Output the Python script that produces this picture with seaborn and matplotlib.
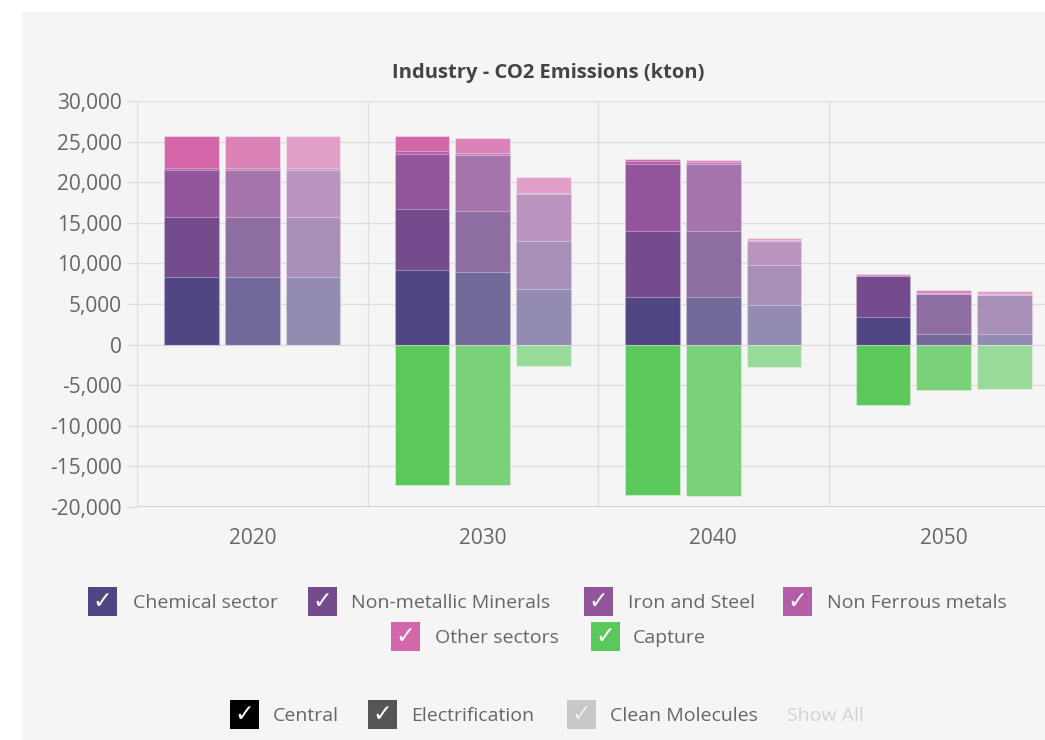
import numpy as np
import pandas as pd
import seaborn as sns
import matplotlib
matplotlib.use("Agg")
import matplotlib.pyplot as plt
from matplotlib.patches import Rectangle
from matplotlib.ticker import FuncFormatter, FixedLocator

# ---------------- data ----------------
years = ["2020", "2030", "2040", "2050"]
scenarios = ["Central", "Electrification", "Clean Molecules"]
sectors = ["Chemical sector", "Non-metallic Minerals", "Iron and Steel",
           "Non Ferrous metals", "Other sectors", "Capture"]

# values per scenario, per year (kton)
chemical = {"Central": [8300, 9200, 5900, 3400],
            "Electrification": [8300, 9000, 5900, 1350],
            "Clean Molecules": [8300, 6800, 4900, 1250]}
non_metallic = {"Central": [7400, 7500, 8100, 5000],
                "Electrification": [7400, 7500, 8100, 4900],
                "Clean Molecules": [7400, 5950, 4950, 4850]}
iron_steel = {"Central": [5800, 6800, 8300, 0],
              "Electrification": [5800, 6900, 8300, 0],
              "Clean Molecules": [5800, 5800, 2850, 0]}
non_ferrous = {"Central": [200, 300, 250, 150],
               "Electrification": [200, 250, 200, 150],
               "Clean Molecules": [200, 150, 150, 150]}
other = {"Central": [4000, 1900, 350, 200],
         "Electrification": [4000, 1750, 250, 300],
         "Clean Molecules": [4000, 2000, 300, 350]}
capture = {"Central": [0, -17250, -18500, -7450],
           "Electrification": [0, -17250, -18600, -5600],
           "Clean Molecules": [0, -2650, -2750, -5450]}

sector_colors = ["#514583", "#744b8d", "#92549a", "#b35ea6", "#d466aa", "#5ac85a"]
scenario_alpha = [1.0, 0.8, 0.6]
scenario_swatch = ["#000000", "#555555", "#c8c8c8"]

BG = "#f5f5f5"
W, H = 1045, 740


def blend(hexc, a, bg=BG):
    c = np.array(matplotlib.colors.to_rgb(hexc))
    b = np.array(matplotlib.colors.to_rgb(bg))
    return tuple(a * c + (1 - a) * b)


def fx(x):
    return x / W


def fy(y):
    return 1 - y / H


# ---------------- figure ----------------
sns.set_theme(style="white")
plt.rcParams["font.family"] = ["Open Sans", "DejaVu Sans"]

fig = plt.figure(figsize=(W / 100, H / 100), dpi=100)
fig.patch.set_facecolor("white")
fig.add_artist(Rectangle((fx(22), 0), 1 - fx(22), fy(12), transform=fig.transFigure,
                         facecolor=BG, edgecolor="none", zorder=-10))

ax = fig.add_axes([fx(137), fy(507), 922 / W, (507 - 101) / H])
ax.set_facecolor(BG)

# cumulative stacks
layers = [chemical, non_metallic, iron_steel, non_ferrous, other]
rows = []
for s in scenarios:
    cum = np.zeros(len(years))
    for li, layer in enumerate(layers):
        cum = cum + np.array(layer[s])
        for yi, yr in enumerate(years):
            rows.append({"year": yr, "scenario": s, "layer": li, "value": cum[yi]})
    for yi, yr in enumerate(years):
        rows.append({"year": yr, "scenario": s, "layer": 5, "value": capture[s][yi]})
df = pd.DataFrame(rows)

edge = (1, 1, 1, 0.35)
for li in [4, 3, 2, 1, 0, 5]:
    pal = [blend(sector_colors[li], a) for a in scenario_alpha]
    sns.barplot(data=df[df["layer"] == li], x="year", y="value", hue="scenario",
                order=years, hue_order=scenarios, palette=pal, width=0.79, gap=0.1,
                dodge=True, legend=False, errorbar=None, edgecolor=edge,
                saturation=1, linewidth=0.8, ax=ax, zorder=3)

ax.set_xlim(-0.5, 3.5)
ax.set_ylim(-20000, 30000)
ax.set_xlabel("")
ax.set_ylabel("")

# grid
ax.yaxis.set_major_locator(FixedLocator(np.arange(-20000, 30001, 5000)))
ax.yaxis.set_major_formatter(FuncFormatter(lambda v, p: f"{int(v):,}"))
for v in np.arange(-20000, 30001, 5000):
    ax.axhline(v, color="#dedede", lw=1.0, zorder=0)
ax.axhline(-20000, color="#cfcfcf", lw=1.2, zorder=1)
for xb in [-0.5, 0.5, 1.5, 2.5, 3.5]:
    ax.axvline(xb, color="#dedede", lw=1.0, zorder=0)

for sp in ax.spines.values():
    sp.set_visible(False)

ax.set_xticks(range(len(years)))
ax.set_xticklabels(years)
ax.set_xticks([-0.5, 0.5, 1.5, 2.5, 3.5], minor=True)
ax.tick_params(axis="x", which="major", length=0, pad=15, labelsize=15, labelcolor="#666666")
ax.tick_params(axis="x", which="minor", length=8, width=1.0, color="#dedede", direction="out")
ax.tick_params(axis="y", which="major", length=7, width=1.0, color="#dedede",
               pad=4, labelsize=15, labelcolor="#666666", left=True)

# title
fig.text(fx(548), fy(73), "Industry - CO2 Emissions (kton)", ha="center", va="center",
         fontsize=14.5, fontweight="bold", color="#444444")

# legend (drawn as text)
SQ = 29


def legend_item(sqx, yc, color, label, textx, checkcolor="white", textcolor="#666666"):
    fig.add_artist(Rectangle((fx(sqx), fy(yc + SQ / 2)), SQ / W, SQ / H,
                             transform=fig.transFigure, facecolor=color,
                             edgecolor="none"))
    fig.text(fx(sqx + SQ / 2), fy(yc), "\u2713", ha="center", va="center",
             fontsize=17, color=checkcolor, family="DejaVu Sans")
    fig.text(fx(textx), fy(yc + 2), label, ha="left", va="center",
             fontsize=14, color=textcolor)


legend_item(88, 601, sector_colors[0], sectors[0], 133)
legend_item(308, 601, sector_colors[1], sectors[1], 351)
legend_item(584, 601, sector_colors[2], sectors[2], 628)
legend_item(783, 601, sector_colors[3], sectors[3], 827)
legend_item(391, 636, sector_colors[4], sectors[4], 435)
legend_item(591, 636, sector_colors[5], sectors[5], 633)

legend_item(230, 714, scenario_swatch[0], scenarios[0], 273)
legend_item(368, 714, scenario_swatch[1], scenarios[1], 411)
legend_item(567, 714, scenario_swatch[2], scenarios[2], 610, checkcolor="#eeeeee")
fig.text(fx(787), fy(716), "Show All", ha="left", va="center", fontsize=14, color="#d3d3d3")

fig.savefig("out.png", dpi=100, facecolor="white")
